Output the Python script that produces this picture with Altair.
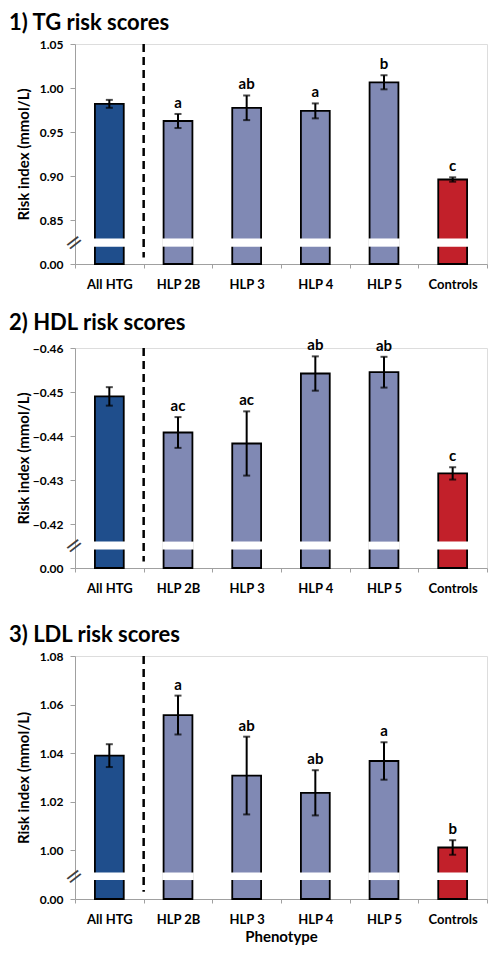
import altair as alt
import pandas as pd

categories = ["All HTG", "HLP 2B", "HLP 3", "HLP 4", "HLP 5", "Controls"]
cat_colors = ["#1F4E8C", "#8089B4", "#8089B4", "#8089B4", "#8089B4", "#C2202A"]

tg_values = [0.982, 0.9625, 0.9775, 0.974, 1.0065, 0.896]
tg_err = [0.0045, 0.008, 0.014, 0.0085, 0.008, 0.0025]
tg_letters = ["", "a", "ab", "a", "b", "c"]

hdl_values = [-0.4490, -0.4408, -0.4383, -0.4542, -0.4545, -0.4315]
hdl_err = [0.0021, 0.0035, 0.0073, 0.0039, 0.0035, 0.0014]
hdl_letters = ["", "ac", "ac", "ab", "ab", "c"]

ldl_values = [1.039, 1.0557, 1.0308, 1.0237, 1.0368, 1.0012]
ldl_err = [0.0047, 0.008, 0.016, 0.0093, 0.0077, 0.003]
ldl_letters = ["", "a", "ab", "ab", "a", "b"]

tg_ticks = [0.80, 0.85, 0.90, 0.95, 1.00, 1.05]
hdl_ticks = [-0.41, -0.42, -0.43, -0.44, -0.45, -0.46]
ldl_ticks = [0.98, 1.00, 1.02, 1.04, 1.06, 1.08]

FONT = "Lato"
W = 412


def panel(title, values, errs, letters, ticks, base, top_val, brk, direction, height, xtitle=None):
    df = pd.DataFrame({
        "cat": categories,
        "value": values,
        "err": errs,
        "letter": letters,
    })
    df["lo"] = df["value"] - df["err"]
    df["hi"] = df["value"] + df["err"]
    df["top"] = df["value"] + direction * df["err"]
    df["base"] = base
    df["brk_lo"] = brk[0]
    df["brk_hi"] = brk[1]
    df["brk_mid"] = (brk[0] + brk[1]) / 2
    df["dash_top"] = top_val
    df["dash_bot"] = base + (top_val - base) * 0.03

    label_expr = (
        f"abs(datum.value - ({base})) < 1e-6 ? '0.00' : format(datum.value, '.2f')"
    )
    yscale = alt.Scale(domain=[base, top_val], nice=False, zero=False)
    yaxis = alt.Axis(
        values=ticks, labelExpr=label_expr, grid=False,
        domainColor="#a0a0a0", tickColor="#a0a0a0", tickSize=5, labelPadding=7,
        labelFont=FONT, labelFontWeight="bold", labelFontSize=12, labelColor="black",
        title="Risk index (mmol/L)", titleFont=FONT, titleFontWeight="bold",
        titleFontSize=15, titleColor="black", minExtent=41, maxExtent=41, titlePadding=3,
    )
    xaxis = alt.Axis(
        labelAngle=0, tickBand="extent", domainColor="#a0a0a0", tickColor="#a0a0a0",
        tickSize=4, labelPadding=10, labelFont=FONT, labelFontWeight="bold",
        labelFontSize=13, labelColor="black",
        title=xtitle, titleFont=FONT, titleFontWeight="bold", titleFontSize=15,
        titleColor="black", titlePadding=3,
    )
    xscale = alt.Scale(domain=categories, paddingInner=0, paddingOuter=0)
    X = alt.X("cat:N", scale=xscale, axis=xaxis, sort=categories)
    Xn = alt.X("cat:N", scale=xscale, sort=categories)

    base_chart = alt.Chart(df)

    bars = base_chart.mark_bar(stroke="black", strokeWidth=1.8, width=alt.RelativeBandSize(0.42)).encode(
        x=X,
        y=alt.Y("value:Q", scale=yscale, axis=yaxis),
        y2="base:Q",
        color=alt.Color("cat:N", scale=alt.Scale(domain=categories, range=cat_colors), legend=None),
    )
    brk_band = base_chart.mark_bar(color="white", width=alt.RelativeBandSize(0.46)).encode(
        x=Xn, y="brk_lo:Q", y2="brk_hi:Q"
    )
    dash = base_chart.transform_filter("datum.cat == 'All HTG'").mark_rule(
        color="black", strokeWidth=2.5, strokeDash=[8, 5]
    ).encode(x=alt.X("cat:N", scale=xscale, bandPosition=1), y="dash_top:Q", y2="dash_bot:Q")
    err_rule = base_chart.mark_rule(color="black", strokeWidth=2).encode(
        x=Xn, y="lo:Q", y2="hi:Q"
    )
    cap_lo = base_chart.mark_tick(color="black", thickness=2, size=7).encode(x=Xn, y="lo:Q")
    cap_hi = base_chart.mark_tick(color="black", thickness=2, size=7).encode(x=Xn, y="hi:Q")
    labels = base_chart.mark_text(
        baseline="bottom", dy=-3, font=FONT, fontWeight="bold", fontSize=15, color="black"
    ).encode(x=Xn, y="top:Q", text="letter:N")
    brk_sym = base_chart.transform_filter("datum.cat == 'All HTG'").mark_text(
        text="=", angle=322, fontSize=22, color="#404040", font="DejaVu Sans"
    ).encode(x=alt.value(-1), y="brk_mid:Q")

    return alt.layer(bars, brk_band, dash, err_rule, cap_lo, cap_hi, labels, brk_sym).properties(
        width=W, height=height,
        title=alt.TitleParams(title, anchor="start", frame="bounds", font=FONT, fontSize=22,
                              fontWeight="bold", color="black", offset=3, dx=-7),
    )


p1 = panel("1) TG risk scores", tg_values, tg_err, tg_letters, tg_ticks, 0.80, 1.05,
           (0.8197, 0.829), 1, 220)
p2 = panel("2) HDL risk scores", hdl_values, hdl_err, hdl_letters, hdl_ticks, -0.41, -0.46,
           (-0.4160, -0.4142), -1, 220)
p3 = panel("3) LDL risk scores", ldl_values, ldl_err, ldl_letters, ldl_ticks, 0.98, 1.08,
           (0.9878, 0.9909), 1, 243, xtitle="Phenotype")

chart = alt.vconcat(alt.vconcat(p1, p2, spacing=19), p3, spacing=27).properties(
    padding={"left": 0, "top": 3, "right": 0, "bottom": 0}
).configure_view(stroke=None).configure(background="white")

chart.save("out.html", embed_options={"renderer": "svg", "actions": False})
